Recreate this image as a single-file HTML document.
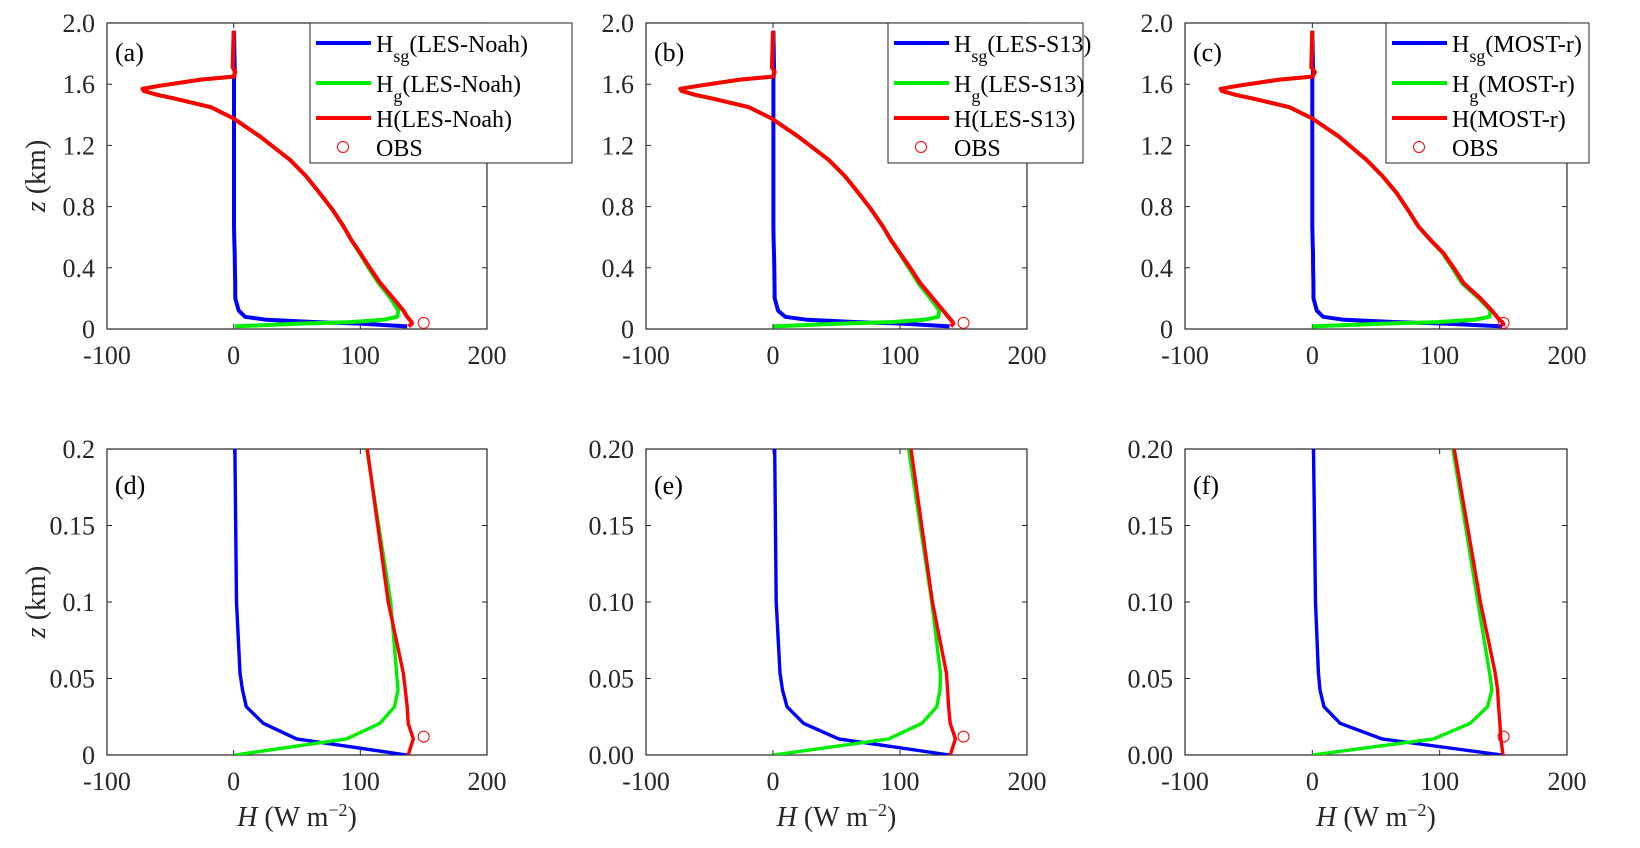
<!DOCTYPE html>
<html><head><meta charset="utf-8">
<style>
html,body{margin:0;padding:0;background:#fff;}
svg{display:block;font-family:"Liberation Serif",serif;}
</style></head>
<body>
<svg id="fig" width="1640" height="848" viewBox="0 0 1640 848" xmlns="http://www.w3.org/2000/svg"></svg>
<script>
// ---- data ----
const xTicks = [-100, 0, 100, 200];
const yTicksTop = [0, 0.4, 0.8, 1.2, 1.6, 2.0];
const yTickLabelsTop = ["0", "0.4", "0.8", "1.2", "1.6", "2.0"];
const yTicksBot = [0, 0.05, 0.1, 0.15, 0.2];
const yTickLabelsD = ["0", "0.05", "0.1", "0.15", "0.2"];
const yTickLabelsEF = ["0.00", "0.05", "0.10", "0.15", "0.20"];
const models = ["LES-Noah", "LES-S13", "MOST-r"];

const zUp = [1.95, 1.71, 1.68, 1.65, 1.63, 1.59, 1.57, 1.556, 1.53, 1.507, 1.45, 1.376, 1.257, 1.104, 1.0, 0.887, 0.78, 0.67, 0.58, 0.496, 0.4, 0.3];
const H_a_up = [0, -0.8, 1.3, 0, -26, -58, -72, -71, -60, -47, -18, 0, 21, 44.7, 57, 68, 78, 86.8, 93, 100, 107.5, 115.8];
const H_b_up = [0, -0.8, 1.3, 0, -26, -58, -73, -72, -61, -48, -19, -1, 20, 44, 56.5, 67.5, 77.5, 86.5, 93, 100, 108, 116];
const H_c_up = [0, -0.8, 2, 0, -26, -58, -72, -71, -60, -47, -18, 0, 21, 42.8, 55, 66.4, 75, 83.4, 93, 103, 111, 118.8];
const Hg_a_up = [0, -0.8, 1.3, 0, -26, -58, -72, -71, -60, -47, -18, 0, 21, 44.7, 57, 68, 78, 86.8, 93, 99.5, 106.5, 114.5];
const Hg_b_up = [0, -0.8, 1.3, 0, -26, -58, -73, -72, -61, -48, -19, -1, 20, 44, 56.5, 67.5, 77.5, 86.5, 93, 99.5, 107, 114.5];
const Hg_c_up = [0, -0.8, 2, 0, -26, -58, -72, -71, -60, -47, -18, 0, 21, 42.8, 55, 66.4, 75, 83.4, 93, 102.5, 110, 117.5];
const Hsg_a_up = [0.3, 0.8, 0.8, 0.5, 0.3, 0.3, 0.3, 0.3, 0.3, 0.3, 0.3, 0.3, 0.3, 0.3, 0.3, 0.3, 0.3, 0.3, 0.5, 0.8, 1, 1.2];
const Hsg_b_up = [0.3, 0.8, 0.8, 0.5, 0.3, 0.3, 0.3, 0.3, 0.3, 0.3, 0.3, 0.3, 0.3, 0.3, 0.3, 0.3, 0.3, 0.3, 0.5, 0.8, 1, 1.2];
const Hsg_c_up = [0.0, 0.5, 0.5, 0.3, 0.0, 0.0, 0.0, 0.0, 0.0, 0.0, 0.0, 0.0, 0.0, 0.0, 0.0, 0.0, 0.0, 0.0, 0.2, 0.5, 0.6, 0.8];

const zTopLow = [0.2, 0.12, 0.08, 0.06, 0.045, 0.035, 0.017];
const H_a_tl = [126, 134, 137, 139, 140.5, 140.8, 138];
const Hg_a_tl = [124, 130, 129, 118, 92, 52, 1];
const Hsg_a_tl = [1.3, 4, 9, 26, 65, 100, 137];
const H_b_tl = [126, 134, 138, 140, 141.5, 142, 140];
const Hg_b_tl = [124, 131, 130, 119, 93, 53, 0.5];
const Hsg_b_tl = [1.3, 4, 9.5, 27, 66, 102, 139];
const H_c_tl = [132, 141, 145, 147, 149, 150, 150];
const Hg_c_tl = [131, 140, 139, 127, 98, 56, 0];
const Hsg_c_tl = [0.9, 3.5, 8.5, 25, 66, 105, 149];

const zLow = [0.2, 0.1, 0.0536, 0.0425, 0.0316, 0.0207, 0.0105, 0];
const Hg_a_low = [105, 124, 128.6, 129.7, 127, 115.5, 89, 1];
const Hsg_a_low = [1, 2.2, 5, 7, 10, 23.4, 49.7, 136.5];
const H_a_low = [105.5, 122, 133.9, 135.5, 137, 137.8, 141.8, 137.8];
const Hg_b_low = [106.8, 125, 131.8, 131.5, 129, 117.3, 91, 0.5];
const Hsg_b_low = [1.3, 2.5, 5.5, 7.5, 11, 24, 51.7, 139];
const H_b_low = [108.7, 125.5, 136.5, 137.5, 138.3, 139.5, 143.6, 139.6];
const Hg_c_low = [110.4, 130, 139.2, 141, 137.6, 124, 95.2, 0];
const Hsg_c_low = [0.9, 2.5, 4.8, 6, 9.2, 21.8, 54.6, 148.9];
const H_c_low = [111.4, 132, 143.6, 145.5, 146.3, 147.3, 148, 149.7];

const obsH = [150, 150, 150.2];
const obsZTop = [0.04, 0.04, 0.04];
const obsZBot = [0.012, 0.012, 0.012];

// ---- layout ----
const NS = "http://www.w3.org/2000/svg";
const svg = document.getElementById("fig");
const colLeft = [107, 646, 1185];
const colRight = [487, 1027, 1567];
const rowTop = [23, 449];
const rowBot = [329, 755];
const legendBox = [[310, 572], [888, 1083], [1386, 1589]];
const letters = [["(a)", "(b)", "(c)"], ["(d)", "(e)", "(f)"]];

function el(tag, attrs, parent) {
  const e = document.createElementNS(NS, tag);
  for (const k in attrs) e.setAttribute(k, attrs[k]);
  (parent || svg).appendChild(e);
  return e;
}

const upSets = [[H_a_up, Hg_a_up, Hsg_a_up], [H_b_up, Hg_b_up, Hsg_b_up], [H_c_up, Hg_c_up, Hsg_c_up]];
const tlSets = [[H_a_tl, Hg_a_tl, Hsg_a_tl], [H_b_tl, Hg_b_tl, Hsg_b_tl], [H_c_tl, Hg_c_tl, Hsg_c_tl]];
const lowSets = [[H_a_low, Hg_a_low, Hsg_a_low], [H_b_low, Hg_b_low, Hsg_b_low], [H_c_low, Hg_c_low, Hsg_c_low]];

for (let r = 0; r < 2; r++) {
  for (let c = 0; c < 3; c++) {
    const L = colLeft[c], R = colRight[c], T = rowTop[r], B = rowBot[r];
    const ymax = r === 0 ? 2.0 : 0.2;
    const xs = v => L + (v + 100) / 300 * (R - L);
    const ys = v => B - v / ymax * (B - T);
    const g = el("g", {});
    
    
    const cid = "clip" + r + c;
    const cp = el("clipPath", {id: cid}, g);
    el("rect", {x: L, y: T, width: R - L, height: B - T}, cp);
    const box = el("rect", {x: L, y: T, width: R - L, height: B - T, fill: "none", stroke: "#262626", "stroke-width": 1.2}, g);
    
    
    xTicks.forEach(v => {
      const x = xs(v);
      el("line", {x1: x, y1: B, x2: x, y2: B - 5, stroke: "#262626", "stroke-width": 1}, g);
      el("line", {x1: x, y1: T, x2: x, y2: T + 5, stroke: "#262626", "stroke-width": 1}, g);
      const t = el("text", {x: x, y: B + 35, "text-anchor": "middle", "font-size": 26, fill: "#262626"}, g);
      t.textContent = String(v);
      
      
    });
    const yt = r === 0 ? yTicksTop : yTicksBot;
    const yl = r === 0 ? yTickLabelsTop : (c === 0 ? yTickLabelsD : yTickLabelsEF);
    yt.forEach((v, i) => {
      const y = ys(v);
      el("line", {x1: L, y1: y, x2: L + 5, y2: y, stroke: "#262626", "stroke-width": 1}, g);
      el("line", {x1: R, y1: y, x2: R - 5, y2: y, stroke: "#262626", "stroke-width": 1}, g);
      const t = el("text", {x: L - 12, y: y + 9, "text-anchor": "end", "font-size": 26, fill: "#262626"}, g);
      t.textContent = yl[i];
      
      
    });
    const up = upSets[c], tl = tlSets[c], low = lowSets[c];
    const colors = ["#ff0000", "#00ee00", "#0000ff"];
    const names = ["H-line", "Hg-line", "Hsg-line"];
    [2, 1, 0].forEach(k => {
      let zArr, vArr;
      if (r === 0) { zArr = zUp.concat(zTopLow); vArr = up[k].concat(tl[k]); }
      else { zArr = zLow; vArr = low[k]; }
      const pts = zArr.map((z, i) => xs(vArr[i]).toFixed(1) + "," + ys(z).toFixed(1)).join(" ");
      const pl = el("polyline", {points: pts, fill: "none", stroke: colors[k], "stroke-width": r === 0 ? 4 : 3.4, "stroke-linejoin": "round", "clip-path": "url(#" + cid + ")"}, g);
      
      
    });
    const obs = el("circle", {cx: xs(obsH[c]), cy: ys(r === 0 ? obsZTop[c] : obsZBot[c]), r: 5.5, fill: "none", stroke: "#ff0000", "stroke-width": 1}, g);
    
    
    const pt = el("text", {x: L + 8, y: T + (r === 0 ? 38 : 45), "font-size": 26, fill: "#000"}, g);
    pt.textContent = letters[r][c];
    
    
    if (c === 0) {
      const cy = (T + B) / 2;
      const yl2 = el("text", {x: 0, y: 0, transform: "translate(45," + cy + ") rotate(-90)", "text-anchor": "middle", "font-size": 28, fill: "#262626"}, g);
      yl2.innerHTML = '<tspan font-style="italic">z</tspan>  (km)';
      
      
    }
    if (r === 1) {
      const xl = el("text", {x: (L + R) / 2, y: 826, "text-anchor": "middle", "font-size": 28, fill: "#262626"}, g);
      xl.innerHTML = '<tspan font-style="italic">H</tspan>  (W  m<tspan dy="-10" font-size="18">−2</tspan><tspan dy="10">)</tspan>';
      
      
    }
    if (r === 0) {
      const [lx, rx] = legendBox[c];
      const lg = el("g", {}, g);
      
      
      el("rect", {x: lx, y: T, width: rx - lx, height: 140, fill: "#fff", stroke: "#262626", "stroke-width": 1}, lg);
      const rowsY = [T + 20, T + 60, T + 95, T + 124];
      const cols = ["#0000ff", "#00ee00", "#ff0000"];
      const subs = ["sg", "g", ""];
      for (let i = 0; i < 3; i++) {
        const ln = el("line", {x1: lx + 6, y1: rowsY[i], x2: lx + 61, y2: rowsY[i], stroke: cols[i], "stroke-width": 4}, lg);
        
        
        const t = el("text", {x: lx + 66, y: rowsY[i] + 9, "font-size": 24, fill: "#000"}, lg);
        t.innerHTML = subs[i] ? 'H<tspan dy="10" font-size="18">' + subs[i] + '</tspan><tspan dy="-10">(' + models[c] + ')</tspan>' : 'H(' + models[c] + ')';
        
        
      }
      el("circle", {cx: lx + 33, cy: rowsY[3], r: 5.5, fill: "none", stroke: "#ff0000", "stroke-width": 1}, lg);
      const t = el("text", {x: lx + 66, y: rowsY[3] + 9, "font-size": 24, fill: "#000"}, lg);
      t.textContent = "OBS";
      
      
    }
  }
}
</script>
</body></html>
